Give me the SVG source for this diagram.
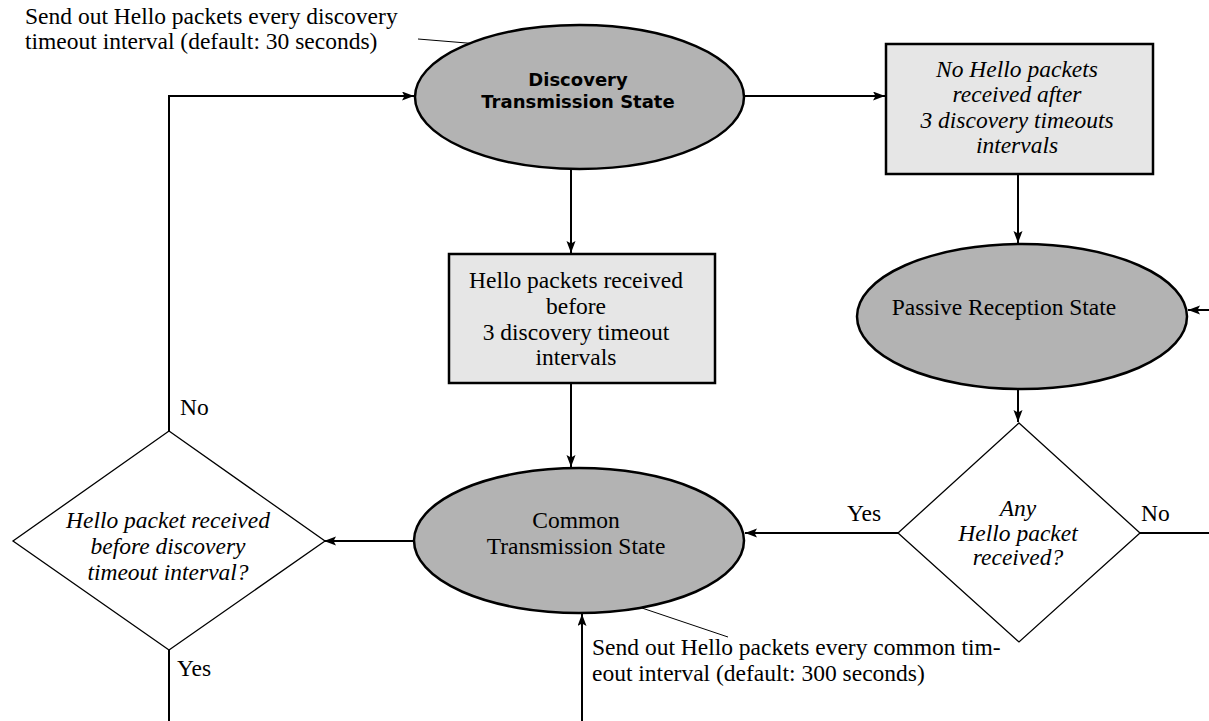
<svg xmlns="http://www.w3.org/2000/svg" width="1209" height="721" viewBox="0 0 1209 721">
<style>
.serif{font-family:"Liberation Serif","Times New Roman",serif;font-size:23.5px;fill:#000}
.it{font-style:italic}
.bold{font-family:"DejaVu Sans",sans-serif;font-weight:bold;font-size:18px;fill:#000}
.state{fill:#b3b3b3;stroke:#000;stroke-width:2.5}
.box{fill:#e6e6e6;stroke:#000;stroke-width:2.5}
.dec{fill:#fff;stroke:#000;stroke-width:1.3}
.conn{fill:none;stroke:#000;stroke-width:2}
.lead{fill:none;stroke:#000;stroke-width:1}
</style>
<defs>
<marker id="arr" markerUnits="userSpaceOnUse" markerWidth="14" markerHeight="10" refX="12" refY="4.5" orient="auto">
<path d="M0,0 L12,4.5 L0,9 L2.5,4.5 z" fill="#000"/>
</marker>
</defs>
<rect width="1209" height="721" fill="#fff"/>

<g id="connectors">
<path class="conn" d="M169,431 V96 H414" marker-end="url(#arr)"/>
<path class="conn" d="M744,96 H885" marker-end="url(#arr)"/>
<path class="conn" d="M571,169 V253" marker-end="url(#arr)"/>
<path class="conn" d="M1018,174 V243" marker-end="url(#arr)"/>
<path class="conn" d="M571,383 V467" marker-end="url(#arr)"/>
<path class="conn" d="M1018,389 V422" marker-end="url(#arr)"/>
<path class="conn" d="M898,533 H745" marker-end="url(#arr)"/>
<path class="conn" d="M414,541 H324" marker-end="url(#arr)"/>
<path class="conn" d="M1140,533 H1209"/>
<path class="conn" d="M1209,310 H1188" marker-end="url(#arr)"/>
<path class="conn" d="M169,650 V721"/>
<path class="conn" d="M582,721 V614" marker-end="url(#arr)"/>
<path class="lead" d="M418,39 L491,45"/>
<path class="lead" d="M633,605 L728,637"/>
<text class="serif" x="180" y="415">No</text>
<text class="serif" x="177" y="676">Yes</text>
<text class="serif" x="847" y="521">Yes</text>
<text class="serif" x="1141" y="521">No</text>
</g>

<g id="note-discovery">
<text class="serif" x="25" y="24">Send out Hello packets every discovery</text>
<text class="serif" x="25" y="49">timeout interval (default: 30 seconds)</text>
</g>

<g id="note-common">
<text class="serif" x="592" y="655">Send out Hello packets every common tim-</text>
<text class="serif" x="592" y="681">eout interval (default: 300 seconds)</text>
</g>

<g id="discovery-state">
<ellipse class="state" cx="579.5" cy="97" rx="164.5" ry="72"/>
<text class="bold" x="578" y="86" text-anchor="middle">Discovery</text>
<text class="bold" x="578" y="108" text-anchor="middle">Transmission State</text>
</g>

<g id="no-hello-box">
<rect class="box" x="886" y="44" width="267" height="130"/>
<text class="serif it" text-anchor="middle" x="1017" y="77">No Hello packets</text>
<text class="serif it" text-anchor="middle" x="1017" y="102">received after</text>
<text class="serif it" text-anchor="middle" x="1017" y="128">3 discovery timeouts</text>
<text class="serif it" text-anchor="middle" x="1017" y="153">intervals</text>
</g>

<g id="hello-received-box">
<rect class="box" x="449" y="254" width="266" height="129"/>
<text class="serif" text-anchor="middle" x="576" y="288">Hello packets received</text>
<text class="serif" text-anchor="middle" x="576" y="314">before</text>
<text class="serif" text-anchor="middle" x="576" y="340">3 discovery timeout</text>
<text class="serif" text-anchor="middle" x="576" y="365">intervals</text>
</g>

<g id="passive-state">
<ellipse class="state" cx="1022" cy="316.5" rx="165" ry="72.5"/>
<text class="serif" text-anchor="middle" x="1004" y="315">Passive Reception State</text>
</g>

<g id="any-hello-decision">
<polygon class="dec" points="1019,423 1140,533 1019,642 898,533"/>
<text class="serif it" text-anchor="middle" x="1018" y="516">Any</text>
<text class="serif it" text-anchor="middle" x="1018" y="541">Hello packet</text>
<text class="serif it" text-anchor="middle" x="1018" y="565">received?</text>
</g>

<g id="common-state">
<ellipse class="state" cx="579" cy="540.5" rx="165" ry="72.5"/>
<text class="serif" text-anchor="middle" x="576" y="528">Common</text>
<text class="serif" text-anchor="middle" x="576" y="554">Transmission State</text>
</g>

<g id="hello-before-decision">
<polygon class="dec" points="169,431 325,541 169,650 13,541"/>
<text class="serif it" text-anchor="middle" x="168" y="528">Hello packet received</text>
<text class="serif it" text-anchor="middle" x="168" y="554">before discovery</text>
<text class="serif it" text-anchor="middle" x="168" y="580">timeout interval?</text>
</g>
</svg>
